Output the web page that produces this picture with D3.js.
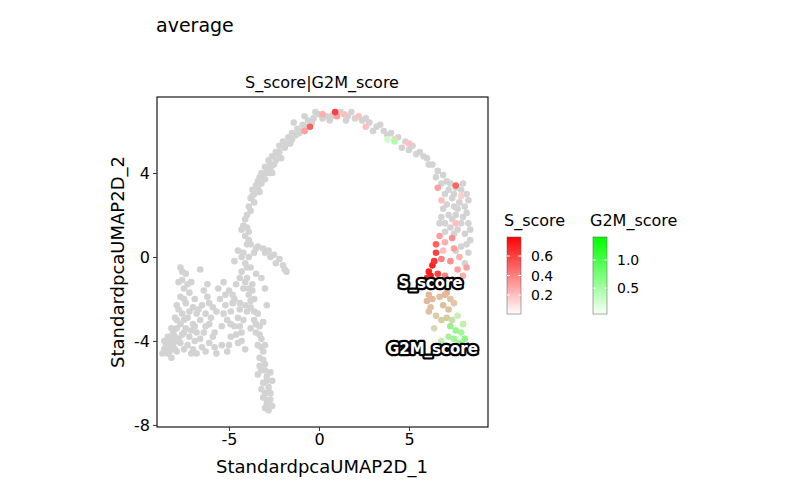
<!DOCTYPE html><html><head><meta charset="utf-8">
<script src="https://cdn.jsdelivr.net/npm/d3@7"></script>
<style>body{margin:0;background:#fff}text{font-family:"DejaVu Sans",sans-serif}</style></head><body>
<svg id="c" width="800" height="494"></svg>
<script>
const greyPts = "-4.2,1.5 -4.0,2.0 -3.9,2.4 -3.8,2.8 -3.6,3.0 -3.5,3.4 -3.3,3.8 -3.2,4.0 -3.0,4.3 -2.8,4.6 -2.6,4.8 -2.4,5.0 -2.2,5.3 -2.0,5.5 -1.7,5.7 -1.5,5.9 -1.2,6.1 -0.9,6.3 -0.6,6.5 -0.3,6.6 -3.7,3.2 -3.4,3.6 -2.9,4.1 -2.5,4.4 -2.3,4.9 -1.9,5.2 -1.6,5.4 -1.3,5.8 -2.7,4.2 -3.1,3.9 -2.1,4.7 -1.0,6.0 -3.6,2.6 -4.1,1.8 -3.9,1.2 -3.3,3.1 -2.6,4.0 0,6.8 0.4,6.7 0.8,6.8 1.2,6.9 1.6,6.7 2.0,6.6 2.4,6.5 2.8,6.4 3.2,6.2 3.6,6.0 4.0,5.9 4.4,5.7 4.8,5.5 5.2,5.3 5.6,5.0 6.0,4.7 6.3,4.4 6.6,4.1 6.9,3.9 7.1,3.6 -0.2,6.9 0.6,6.5 1.8,6.9 3.0,6.0 4.6,5.2 5.4,4.9 3.4,6.3 -1.4,6.4 -0.8,6.7 7.3,3.5 7.6,3.3 7.9,3.2 8.2,3.0 7.0,3.0 7.4,2.8 7.8,2.6 8.1,2.4 6.9,2.3 7.2,2.0 7.6,2.0 8.0,1.9 8.3,1.6 6.8,1.9 7.3,1.4 7.7,1.3 8.1,1.1 6.7,1.6 8.4,0.8 7.9,0.5 8.3,0.2 8.1,-0.3 7.5,2.4 8.0,3.5 7.0,1.2 7.2,3.2 7.7,2.3 8.2,2.1 -4.1,1.0 -4.0,0.6 -4.2,0.2 -3.9,0.0 -4.1,-0.3 -3.8,-0.5 -4.3,-0.7 -4.0,-1.0 -3.7,-1.3 -4.2,-1.5 -3.9,-1.8 -3.6,-2.0 -4.4,-2.2 -3.8,-2.4 -3.4,-2.7 -3.6,-3.0 -3.3,-3.3 -3.5,-3.6 -3.2,-3.9 -3.4,-4.2 -3.1,-4.5 -3.3,-4.8 -3.0,-5.1 -3.2,-5.4 -2.9,-5.7 -3.1,-6.0 -2.8,-6.2 -3.0,-6.5 -2.7,-6.8 -2.9,-7.0 -2.8,-7.3 -2.6,-7.1 -3.2,-6.3 -2.6,-5.9 -3.4,-5.6 -2.7,-6.5 -3.8,0.6 -3.4,0.5 -3.1,0.4 -2.8,0.3 -2.5,0.1 -2.2,-0.1 -2.0,-0.4 -1.8,-0.7 -3.6,0.2 -4.5,0.3 -4.7,-0.2 -5.3,-1.2 -5.0,-1.6 -4.7,-2.0 -5.2,-2.3 -4.9,-2.6 -4.5,-2.9 -5.1,-3.0 -4.7,-3.3 -4.3,-3.6 -4.9,-3.8 -4.5,-4.1 -4.1,-4.4 -5.5,-2.0 -5.7,-2.6 -5.4,-3.3 -4.2,-3.0 -4.0,-2.6 -5.6,-1.5 -4.6,-1.3 -7.7,-0.5 -7.4,-0.8 -7.8,-1.2 -7.5,-1.5 -7.2,-1.7 -7.7,-1.9 -7.9,-2.3 -7.4,-2.2 -7.0,-2.4 -7.6,-2.7 -8.0,-2.9 -7.3,-2.9 -6.8,-2.7 -7.7,-3.2 -8.2,-3.4 -7.4,-3.4 -7.0,-3.2 -6.6,-3.0 -8.4,-3.8 -8.0,-3.8 -7.6,-3.7 -7.2,-3.8 -6.8,-3.6 -8.5,-4.2 -8.1,-4.2 -7.7,-4.1 -7.3,-4.2 -6.9,-4.0 -8.3,-4.5 -7.9,-4.5 -6.5,-4.3 -6.1,-4.1 -5.8,-3.6 -6.3,-3.3 -6.0,-2.9 -6.5,-2.3 -6.2,-1.9 -6.9,-2.0 -7.1,-1.2 -6.6,-0.6 -6.2,-1.3 -5.9,-2.4 -5.7,-4.6 -5.4,-4.2 -6.8,-4.6 -8.3,-4.0 -8.6,-4.4 -8.2,-4.8 -3.2,-1.0 -3.0,-1.5 -2.9,-2.3 -7.9,-3.0 -8.3,-4.3 -8.0,-4.0 -7.5,-4.4 -7.1,-3.5 -6.6,-3.9 -5.1,-4.5 -4.4,-3.3 -4.8,-1.8 -4.4,-1.0 -3.5,-0.8 -3.7,-1.6 -4.1,-2.3 -3.1,-3.1 -3.8,-3.4 -3.0,-4.2";
const greyPts2 = "-4.0,1.4 -3.8,2.2 -3.7,2.9 -3.4,3.3 -3.2,3.5 -3.0,3.7 -2.8,4.0 -2.7,4.4 -2.4,4.6 -2.2,5.0 -1.8,5.4 -1.5,5.6 -1.1,5.9 -0.7,6.2 -0.4,6.4 0.2,6.6 0.7,6.7 1.5,6.5 2.6,6.6 3.8,5.8 5.0,5.1 5.8,4.8 6.1,4.4 6.5,3.8 6.8,3.5 7.5,3.0 8.3,2.7 7.1,2.5 7.4,1.8 7.9,1.6 8.4,1.3 7.0,1.6 7.5,1.1 8.2,0.6 7.6,0.3 -4.3,1.3 -3.9,0.8 -4.3,0.0 -4.0,-0.5 -4.1,-1.2 -3.9,-1.5 -3.8,-2.1 -3.6,-2.6 -3.5,-3.2 -3.3,-3.7 -3.2,-4.3 -3.1,-4.9 -3.0,-5.4 -2.9,-5.9 -2.8,-6.4 -2.9,-6.8 -3.0,-7.2 -3.3,-5.2 -2.7,-5.5 -3.1,-6.7 -3.5,0.4 -3.0,0.2 -2.7,0.0 -2.4,-0.3 -1.9,-0.6 -5.2,-1.8 -4.8,-2.2 -4.9,-3.2 -4.6,-3.7 -4.3,-4.0 -5.3,-2.7 -5.0,-4.2 -4.4,-2.5 -7.6,-0.7 -7.6,-1.1 -7.3,-1.3 -7.5,-2.0 -7.8,-2.5 -7.2,-2.6 -7.5,-3.0 -7.9,-3.4 -8.1,-3.6 -7.5,-3.6 -6.9,-3.3 -8.3,-3.8 -8.6,-4.0 -7.8,-3.9 -7.0,-4.4 -8.4,-4.6 -8.0,-4.4 -6.3,-4.5 -6.4,-3.6 -6.1,-3.2 -6.3,-2.7 -6.7,-2.5 -6.4,-1.6 -6.1,-2.2 -5.9,-3.8 -5.8,-4.3 -7.1,-4.6 -8.7,-4.6";
const colPts = "6.7,1.0 7.0,0.7 7.4,0.9 6.9,0.3 7.5,0.4 7.8,0.0 8.2,-0.5 7.3,-0.2 6.8,-0.1 7.6,1.6 7.9,2.9 8.0,-0.9 7.7,-0.6 6.6,3.3 6.8,2.7 0.2,6.8 1.0,6.7 1.4,6.8 2.2,6.7 -0.5,6.2 0.9,6.9 -0.8,6.0 2.6,6.2 4.2,5.6 5.0,5.4 7.6,3.4 6.3,-0.4 6.1,-0.7 6.2,-0.9 6.4,-0.2 6.5,0.2 6.3,-1.1 6.0,-1.0 6.6,-0.8 6.5,0.6 7.0,-0.9 6.1,-1.8 6.0,-2.1 6.2,-2.4 6.3,-2.0 6.1,-2.6 6.7,-1.9 7.0,-1.8 7.3,-2.0 6.9,-2.3 7.2,-2.5 7.5,-2.2 7.1,-1.7 6.5,-2.8 6.8,-3.0 7.1,-2.9 7.3,-3.3 7.6,-3.5 7.9,-3.6 8.1,-3.9 7.5,-3.9 7.8,-4.1 7.2,-3.8 8.0,-3.2 6.8,-4.0 7.0,-4.2 6.4,-3.4 7.4,-3.0 7.7,-2.8 4.2,5.5 3.8,5.6";
const sScore = [0.3,0.25,0.35,0.2,0.3,0.25,0.3,0.35,0.4,0.2,0.15,0.25,0.3,0.3,0.2,0.25,0.3,0.2,0.2,0.5,0.6,0.3,0.2,0.15,0.2,0.5,0.7,0.7,0.72,0.65,0.6,0.7,0.68,0.6,0.5,0.4,0.45,0.45,0.4,0.45,0.4,0.4,0.45,0.4,0.4,0.4,0.35,0.45,0.3,0.3,0.3,0.1,0.05,0.05,0.05,0.05,0.05,0.1,0.1,0.15,0.15,0.25,0.2,0.1,0.02,0.02];
const g2mScore = [0,0,0,0,0,0,0,0,0,0,0,0,0,0,0,0,0,0,0,0,0,0,0,0,0,0,0,0,0,0,0,0,0,0,0,0,0.3,0.3,0.35,0.3,0.35,0.35,0.35,0.3,0.4,0.35,0.3,0.3,0.45,0.5,0.5,1.1,1.2,1.0,1.3,1.1,1.2,0.9,0.7,0.6,0.7,0.4,0.6,0.6,0.9,0.5];
const xTicks=[-5,0,5], yTicks=[-8,-4,0,4], sTicks=[0.2,0.4,0.6], gTicks=[0.5,1.0];

const parse=s=>s.trim().split(/\s+/).map(p=>p.split(",").map(Number));
const grey=parse(greyPts).concat(parse(greyPts2)), col=parse(colPts).map((p,i)=>({x:p[0],y:p[1],s:sScore[i],g:g2mScore[i]}));
const svg=d3.select("#c");
const x=d3.scaleLinear().domain([-9,9.39]).range([157,488]);
const y=d3.scaleLinear().domain([-8.1,7.62]).range([427,97]);
const sCol=d3.scaleLinear().domain([0,0.8]).range(["#ffffff","#ff0000"]);
const gCol=d3.scaleLinear().domain([0,1.4]).range(["#ffffff","#00ff00"]);
function colorOf(d){
  const a=d3.rgb(d.s>0?sCol(d.s):"#d3d3d3"), b=d3.rgb(d.g>0?gCol(d.g):"#d3d3d3");
  if(d.s>0&&d.g>0) return d3.rgb((a.r+b.r)/2,(a.g+b.g)/2,(a.b+b.b)/2);
  if(d.g>0) return b;
  return a;
}
const R=3.3;
svg.append("g").selectAll("circle").data(grey).join("circle").attr("cx",d=>x(d[0])).attr("cy",d=>y(d[1])).attr("r",R).attr("fill","#d3d3d3");
svg.append("g").selectAll("circle").data(col).join("circle").attr("cx",d=>x(d.x)).attr("cy",d=>y(d.y)).attr("r",R).attr("fill",colorOf);
svg.append("rect").attr("x",157).attr("y",97).attr("width",331).attr("height",330).attr("fill","none").attr("stroke","#000").attr("stroke-width",1.1);
const xa=svg.append("g").attr("transform","translate(0,427)").call(d3.axisBottom(x).tickValues(xTicks).tickSize(4).tickPadding(3).tickFormat(d=>String(d)));
const ya=svg.append("g").attr("transform","translate(157,0)").call(d3.axisLeft(y).tickValues(yTicks).tickSize(4).tickPadding(3).tickFormat(d=>String(d)));
[xa,ya].forEach(a=>{a.select(".domain").remove();a.selectAll("text").attr("font-size",16).attr("fill","#000");a.selectAll("line").attr("stroke","#333");});
svg.append("text").attr("x",156).attr("y",32).attr("font-size",19).text("average");
svg.append("text").attr("x",322).attr("y",88).attr("text-anchor","middle").attr("font-size",16).text("S_score|G2M_score");
svg.append("text").attr("x",322).attr("y",473).attr("text-anchor","middle").attr("font-size",18).text("StandardpcaUMAP2D_1");
svg.append("text").attr("transform","translate(124,262) rotate(-90)").attr("text-anchor","middle").attr("font-size",18).text("StandardpcaUMAP2D_2");
[["S_score",6.2,-1.5],["G2M_score",6.3,-4.6]].forEach(([t,a,b])=>{
  svg.append("text").attr("x",x(a)).attr("y",y(b)).attr("text-anchor","middle").attr("font-size",15).attr("font-weight","bold").attr("stroke","#000").attr("stroke-width",4.5).attr("stroke-linejoin","round").attr("fill","#000").text(t);
  svg.append("text").attr("x",x(a)).attr("y",y(b)).attr("text-anchor","middle").attr("font-size",15).attr("font-weight","bold").attr("fill","#fff").text(t);
});
function legend(lx,title,scale,dom,ticks,fmt,id){
  svg.append("text").attr("x",lx-3).attr("y",226).attr("font-size",16).text(title);
  const ly=d3.scaleLinear().domain(dom).range([314,237]);
  const gr=svg.append("defs").append("linearGradient").attr("id",id).attr("x1",0).attr("x2",0).attr("y1",1).attr("y2",0);
  d3.range(0,1.01,0.1).forEach(t=>gr.append("stop").attr("offset",t).attr("stop-color",scale(dom[0]+t*(dom[1]-dom[0]))));
  svg.append("rect").attr("x",lx).attr("y",237).attr("width",14).attr("height",77).attr("fill",`url(#${id})`).attr("stroke","#555").attr("stroke-width",0.5);
  ticks.forEach(t=>{
    svg.append("line").attr("x1",lx).attr("x2",lx+3).attr("y1",ly(t)).attr("y2",ly(t)).attr("stroke","#fff");
    svg.append("line").attr("x1",lx+11).attr("x2",lx+14).attr("y1",ly(t)).attr("y2",ly(t)).attr("stroke","#fff");
    svg.append("text").attr("x",lx+24).attr("y",ly(t)+5).attr("font-size",14).text(fmt(t));
  });
}
legend(507,"S_score",sCol,[0.005,0.795],sTicks,d3.format(".1f"),"gs");
legend(593,"G2M_score",gCol,[0.04,1.41],gTicks,d3.format(".1f"),"gg");
</script></body></html>
